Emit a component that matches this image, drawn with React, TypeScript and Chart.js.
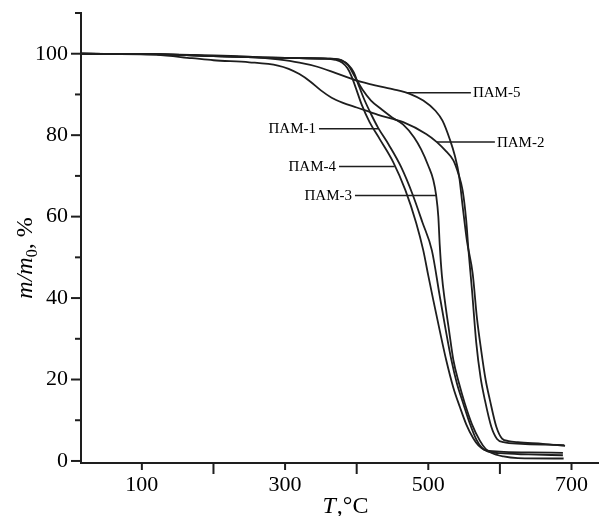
import React, { useEffect, useRef } from 'react';
import { Chart, registerables } from 'chart.js';

Chart.register(...registerables);

// ---- data (T, °C  vs  m/m0, %) ----
const pam1T = [15, 120, 200, 260, 320, 360, 378, 388, 396, 402, 410, 420, 430, 445, 462, 478, 492, 505, 516, 524, 532, 540, 549, 558, 567, 575, 582, 600, 640, 688];
const pam1M = [100, 99.9, 99.4, 99.1, 98.9, 98.8, 98.4, 97.3, 95.4, 92.6, 89.0, 85.2, 81.8, 77.6, 72.2, 65.5, 58.5, 51.7, 40.5, 32.5, 25.0, 19.0, 14.0, 9.2, 5.3, 3.2, 2.4, 1.9, 1.6, 1.4];

const pam2T = [15, 120, 170, 200, 250, 290, 305, 320, 335, 350, 365, 380, 400, 430, 465, 497, 512, 525, 535, 542, 548, 553, 556, 561, 567, 573, 579, 588, 596, 605, 630, 660, 690];
const pam2M = [100, 99.7, 98.9, 98.4, 97.9, 97.1, 96.3, 95.0, 93.2, 91.0, 89.2, 88.0, 86.8, 85.0, 83.2, 80.3, 78.3, 76.0, 73.8, 70.5, 66.4, 59.0, 52.0, 42.0, 29.0, 20.5, 15.0, 8.4, 5.4, 4.6, 4.2, 4.0, 3.9];

const pam3T = [15, 120, 200, 260, 320, 360, 375, 388, 398, 408, 420, 435, 450, 465, 480, 490, 500, 507, 511, 514, 516, 519, 523, 529, 535, 543, 551, 561, 572, 580, 588, 605, 625, 689];
const pam3M = [100, 99.9, 99.4, 99.1, 98.9, 98.8, 98.6, 97.2, 94.2, 91.2, 88.5, 86.3, 84.3, 82.6, 79.5, 76.5, 72.5, 69.0, 65.2, 60.0, 53.0, 45.5, 39.5, 32.0, 24.8, 19.0, 14.1, 9.0, 5.0, 3.0, 2.0, 1.1, 0.7, 0.6];

const pam4T = [15, 120, 200, 260, 320, 355, 370, 380, 387, 393, 399, 407, 418, 432, 451, 468, 483, 493, 500, 507, 516, 525, 535, 544, 553, 563, 570, 578, 600, 640, 688];
const pam4M = [100, 99.9, 99.4, 99.1, 98.9, 98.8, 98.5, 97.8, 96.5, 94.4, 91.5, 87.5, 83.2, 79.1, 73.4, 66.5, 58.5, 51.7, 45.5, 39.5, 32.0, 24.8, 18.0, 13.3, 9.0, 5.5, 3.8, 2.8, 2.3, 2.1, 2.0];

const pam5T = [15, 120, 200, 250, 290, 320, 345, 370, 400, 420, 450, 475, 493, 510, 520, 530, 537, 543, 548, 554, 562, 568, 574, 580, 586, 595, 603, 612, 625, 660, 691];
const pam5M = [100, 99.9, 99.6, 99.3, 98.6, 97.8, 96.8, 95.3, 93.4, 92.5, 91.3, 90.1, 88.5, 86.0, 83.5, 79.0, 75.0, 70.0, 62.5, 54.0, 46.0, 35.0, 27.0, 20.0, 15.0, 8.4, 5.5, 4.9, 4.6, 4.2, 3.7];

const seriesNames = ['ПАМ-1', 'ПАМ-2', 'ПАМ-3', 'ПАМ-4', 'ПАМ-5'];
const seriesT = [pam1T, pam2T, pam3T, pam4T, pam5T];
const seriesM = [pam1M, pam2M, pam3M, pam4M, pam5M];

// curve labels: the point on the curve, and the label end of the pointer line
const labelCurveT = [430, 512, 512, 453, 470];
const labelM = [81.6, 78.3, 65.2, 72.3, 90.4];
const labelEndT = [347.4, 593, 397.6, 375.3, 559.5];
const labelSide = ['left', 'right', 'left', 'left', 'right'];

const xTickValues = [100, 200, 300, 400, 500, 600, 700];
const xTickLabels = ['100', '', '300', '', '500', '', '700'];
const yTickValues = [0, 10, 20, 30, 40, 50, 60, 70, 80, 90, 100, 110];
const yTickLabels = ['0', '', '20', '', '40', '', '60', '', '80', '', '100', ''];

const X_MIN = 15;
const X_MAX = 737;
const Y_MIN = -0.5;
const Y_MAX = 110;

const INK = '#1e1e1e';
const SERIF = '"Liberation Serif", "Times New Roman", serif';

const decorPlugin = {
  id: 'decor',
  afterDraw(chart: any) {
    const ctx = chart.ctx as CanvasRenderingContext2D;
    const xs = chart.scales.x;
    const ys = chart.scales.y;
    const { left, bottom } = chart.chartArea;
    ctx.save();
    ctx.strokeStyle = INK;
    ctx.lineWidth = 2;
    // y tick marks
    yTickValues.forEach((v, i) => {
      const py = ys.getPixelForValue(v);
      const len = yTickLabels[i] ? 10 : 6;
      ctx.beginPath();
      ctx.moveTo(left - len, py);
      ctx.lineTo(left, py);
      ctx.stroke();
    });
    // x tick marks
    xTickValues.forEach((v, i) => {
      const px = xs.getPixelForValue(v);
      const len = xTickLabels[i] ? 7 : 11;
      ctx.beginPath();
      ctx.moveTo(px, bottom);
      ctx.lineTo(px, bottom + len);
      ctx.stroke();
    });

    // curve labels with pointer lines
    ctx.lineWidth = 1.5;
    ctx.fillStyle = '#000';
    ctx.font = '15px ' + SERIF;
    ctx.textBaseline = 'middle';
    seriesNames.forEach((name, i) => {
      const py = ys.getPixelForValue(labelM[i]);
      const pc = xs.getPixelForValue(labelCurveT[i]);
      const pe = xs.getPixelForValue(labelEndT[i]);
      ctx.beginPath();
      ctx.moveTo(pc, py);
      ctx.lineTo(pe, py);
      ctx.stroke();
      if (labelSide[i] === 'left') {
        ctx.textAlign = 'right';
        ctx.fillText(name, pe - 3, py + 0.5);
      } else {
        ctx.textAlign = 'left';
        ctx.fillText(name, pe + 2, py + 0.5);
      }
    });

    // axis titles
    ctx.textAlign = 'left';
    ctx.textBaseline = 'alphabetic';
    const fItal = 'italic 24px ' + SERIF;
    const fReg = '24px ' + SERIF;
    const fSub = '16px ' + SERIF;

    // x title: T,°C
    ctx.font = fItal;
    const wT = ctx.measureText('T').width;
    ctx.font = fReg;
    const wRest = ctx.measureText(',°C').width;
    const xStart = 345 - (wT + wRest) / 2;
    ctx.font = fItal;
    ctx.fillText('T', xStart, 513);
    ctx.font = fReg;
    ctx.fillText(',°C', xStart + wT + 1, 513);

    // y title: m/m0, %
    ctx.translate(32, 258);
    ctx.rotate(-Math.PI / 2);
    ctx.font = fItal;
    const w1 = ctx.measureText('m/m').width;
    ctx.font = fSub;
    const w2 = ctx.measureText('0').width;
    ctx.font = fReg;
    const w3 = ctx.measureText(', %').width;
    const x0 = -(w1 + w2 + w3) / 2;
    ctx.font = fItal;
    ctx.fillText('m/m', x0, 0);
    ctx.font = fSub;
    ctx.fillText('0', x0 + w1, 5);
    ctx.font = fReg;
    ctx.fillText(', %', x0 + w1 + w2, 0);
    ctx.restore();
  },
};

export default function App() {
  const canvasRef = useRef<HTMLCanvasElement>(null);

  useEffect(() => {
    const canvas = canvasRef.current;
    if (!canvas) return;
    const datasets = seriesNames.map((name, s) => ({
      label: name,
      data: seriesT[s].map((t, i) => ({ x: t, y: seriesM[s][i] })),
      borderColor: INK,
      borderWidth: 1.8,
      pointRadius: 0,
      fill: false,
      cubicInterpolationMode: 'monotone' as const,
    }));

    const chart = new Chart(canvas, {
      type: 'line',
      data: { datasets },
      options: {
        animation: false,
        responsive: false,
        events: [],
        layout: { padding: { top: 13, right: 3, left: 0, bottom: 0 } },
        plugins: {
          legend: { display: false },
          tooltip: { enabled: false },
        },
        scales: {
          x: {
            type: 'linear',
            min: X_MIN,
            max: X_MAX,
            afterBuildTicks: (s: any) => {
              s.ticks = xTickValues.map((v) => ({ value: v }));
            },
            afterFit: (s: any) => {
              s.height = 53;
              s.paddingLeft = 0;
              s.paddingRight = 0;
            },
            grid: { display: false, drawTicks: false },
            border: { display: true, color: INK, width: 2 },
            ticks: {
              padding: 9,
              color: '#000',
              font: { family: SERIF, size: 22 },
              maxRotation: 0,
              autoSkip: false,
              callback: (v: any) => xTickLabels[xTickValues.indexOf(Number(v))] ?? '',
            },
          },
          y: {
            type: 'linear',
            min: Y_MIN,
            max: Y_MAX,
            afterBuildTicks: (s: any) => {
              s.ticks = yTickValues.map((v) => ({ value: v }));
            },
            afterFit: (s: any) => {
              s.width = 81;
              s.paddingTop = 0;
              s.paddingBottom = 0;
            },
            grid: { display: false, drawTicks: false },
            border: { display: true, color: INK, width: 2 },
            ticks: {
              padding: 13,
              color: '#000',
              font: { family: SERIF, size: 22 },
              autoSkip: false,
              callback: (v: any) => yTickLabels[yTickValues.indexOf(Number(v))] ?? '',
            },
          },
        },
      },
      plugins: [decorPlugin],
    });
    return () => chart.destroy();
  }, []);

  return (
    <div style={{ position: 'absolute', left: 0, top: 0, width: 601, height: 516, background: '#fff' }}>
      <canvas ref={canvasRef} width={601} height={516} style={{ display: 'block' }} />
    </div>
  );
}
